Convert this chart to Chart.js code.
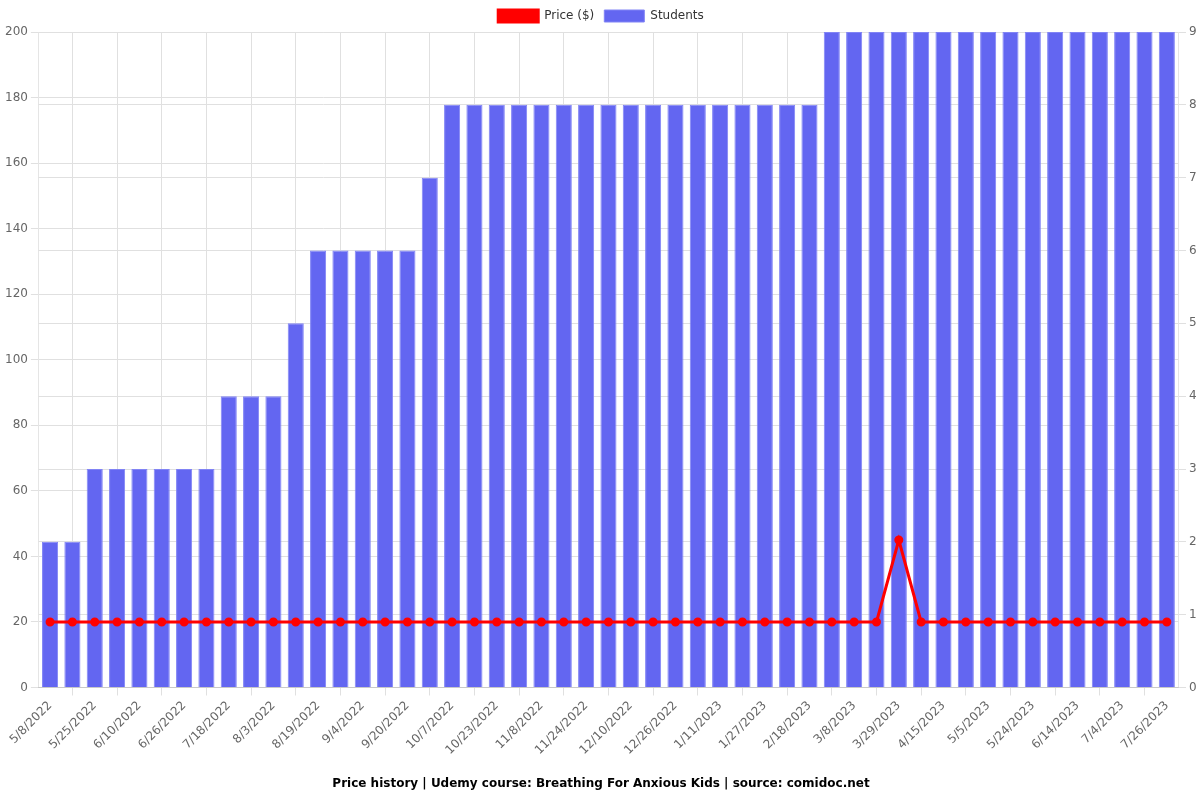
<!DOCTYPE html>
<html>
<head>
<meta charset="utf-8">
<script src="https://cdn.jsdelivr.net/npm/chart.js@4"></script>
<style>
  body { margin: 0; background: #fff; }
  #wrap { width: 1200px; height: 800px; }
</style>
</head>
<body>
<div id="wrap"><canvas id="myChart" width="1200" height="800"></canvas></div>
<script>
const dates = [
  '5/8/2022', '5/16/2022', '5/25/2022', '6/2/2022', '6/10/2022', '6/18/2022', '6/26/2022', '7/6/2022',
  '7/18/2022', '7/26/2022', '8/3/2022', '8/11/2022', '8/19/2022', '8/27/2022', '9/4/2022', '9/12/2022',
  '9/20/2022', '9/28/2022', '10/7/2022', '10/15/2022', '10/23/2022', '10/31/2022', '11/8/2022', '11/16/2022',
  '11/24/2022', '12/2/2022', '12/10/2022', '12/18/2022', '12/26/2022', '1/3/2023', '1/11/2023', '1/19/2023',
  '1/27/2023', '2/6/2023', '2/18/2023', '2/27/2023', '3/8/2023', '3/18/2023', '3/29/2023', '4/6/2023',
  '4/15/2023', '4/25/2023', '5/5/2023', '5/14/2023', '5/24/2023', '6/3/2023', '6/14/2023', '6/24/2023',
  '7/4/2023', '7/15/2023', '7/26/2023'
];

const price = [
  19.99, 19.99, 19.99, 19.99, 19.99, 19.99, 19.99, 19.99,
  19.99, 19.99, 19.99, 19.99, 19.99, 19.99, 19.99, 19.99,
  19.99, 19.99, 19.99, 19.99, 19.99, 19.99, 19.99, 19.99,
  19.99, 19.99, 19.99, 19.99, 19.99, 19.99, 19.99, 19.99,
  19.99, 19.99, 19.99, 19.99, 19.99, 19.99, 44.99, 19.99,
  19.99, 19.99, 19.99, 19.99, 19.99, 19.99, 19.99, 19.99,
  19.99, 19.99, 19.99
];

const students = [
  2, 2, 3, 3, 3, 3, 3, 3,
  4, 4, 4, 5, 6, 6, 6, 6,
  6, 7, 8, 8, 8, 8, 8, 8,
  8, 8, 8, 8, 8, 8, 8, 8,
  8, 8, 8, 9, 9, 9, 9, 9,
  9, 9, 9, 9, 9, 9, 9, 9,
  9, 9, 9
];

const priceTicks = { min: 0, max: 200, step: 20 };
const studentTicks = { min: 0, max: 9, step: 1 };

Chart.defaults.font.family = '"DejaVu Sans", sans-serif';
Chart.defaults.font.size = 12;
Chart.defaults.color = '#666';

var ctx = document.getElementById('myChart').getContext('2d');

var myChart = new Chart(ctx, {
  type: 'bar',
  data: {
    labels: dates,
    datasets: [
      {
        type: 'line',
        label: 'Price ($)',
        data: price,
        yAxisID: 'y',
        borderColor: 'rgb(255, 0, 0)',
        backgroundColor: 'rgb(255, 0, 0)',
        borderWidth: 3,
        pointRadius: 3,
        pointBackgroundColor: 'rgb(255, 0, 0)',
        tension: 0
      },
      {
        type: 'bar',
        label: 'Students',
        data: students,
        yAxisID: 'y1',
        backgroundColor: 'rgb(99, 102, 241)',
        borderColor: 'rgb(129, 132, 245)',
        borderWidth: 1
      }
    ]
  },
  options: {
    responsive: false,
    animation: false,
    layout: { padding: { left: 2, right: 0, top: 0, bottom: 9 } },
    plugins: {
      legend: {
        position: 'top',
        labels: { boxWidth: 40, boxHeight: 12, color: '#333' }
      },
      title: {
        display: true,
        position: 'bottom',
        text: 'Price history | Udemy course: Breathing For Anxious Kids | source: comidoc.net',
        color: '#000',
        font: { size: 12, weight: 'bold' },
        padding: { top: 16, bottom: 0 }
      },
      tooltip: { enabled: false }
    },
    scales: {
      x: {
        ticks: { maxRotation: 45, minRotation: 45, autoSkip: true },
        grid: { color: '#e0e0e0' }
      },
      y: {
        position: 'left',
        min: priceTicks.min,
        max: priceTicks.max,
        ticks: { stepSize: priceTicks.step },
        grid: { color: '#e0e0e0' }
      },
      y1: {
        position: 'right',
        min: studentTicks.min,
        max: studentTicks.max,
        ticks: { stepSize: studentTicks.step },
        grid: { color: '#e0e0e0' },
        afterFit: function (scale) { scale.width = 22; }
      }
    }
  }
});
</script>
</body>
</html>
